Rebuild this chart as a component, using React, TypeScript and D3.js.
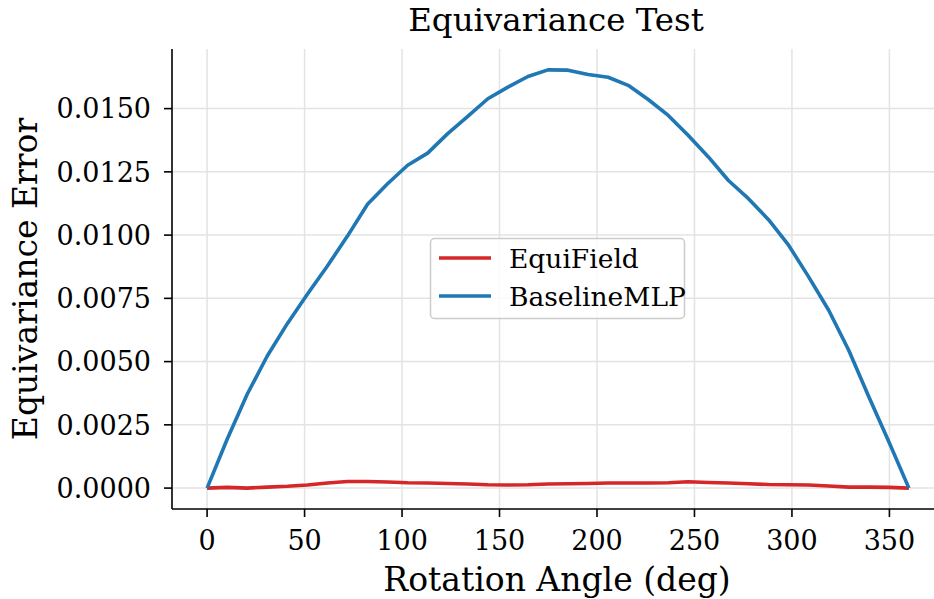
import React from "react";
import * as d3 from "d3";

// rotation angles (deg), 36 samples
const angles = [0, 10.29, 20.57, 30.86, 41.14, 51.43, 61.71, 72.0, 82.29, 92.57, 102.86, 113.14,
  123.43, 133.71, 144.0, 154.29, 164.57, 174.86, 185.14, 195.43, 205.71, 216.0, 226.29, 236.57,
  246.86, 257.14, 267.43, 277.71, 288.0, 298.29, 308.57, 318.86, 329.14, 339.43, 349.71, 360];

const equiField = [0, 0.00003, 0.0, 0.00004, 0.00007, 0.00012, 0.0002, 0.00026, 0.00026, 0.00024,
  0.00021, 0.0002, 0.00018, 0.00016, 0.00013, 0.00012, 0.00013, 0.00016, 0.00017, 0.00018, 0.0002,
  0.0002, 0.0002, 0.00021, 0.00025, 0.00022, 0.0002, 0.00017, 0.00014, 0.00013, 0.00012, 0.00008,
  0.00004, 0.00004, 0.00003, 0.0];

const baselineMLP = [0, 0.00193, 0.00371, 0.00522, 0.0065, 0.00766, 0.00878, 0.00996, 0.01122,
  0.01203, 0.01276, 0.01324, 0.01401, 0.01469, 0.01539, 0.01585, 0.01627, 0.01653, 0.01652, 0.01635,
  0.01624, 0.01592, 0.01536, 0.01473, 0.01394, 0.01309, 0.01216, 0.01144, 0.01061, 0.0096, 0.00835,
  0.00703, 0.00545, 0.00361, 0.00183, 0];

const xTicks = [0, 50, 100, 150, 200, 250, 300, 350];
const yTicks = [0, 0.0025, 0.005, 0.0075, 0.01, 0.0125, 0.015];

const seriesNames = ["EquiField", "BaselineMLP"];
const seriesColors = ["#d62728", "#1f77b4"];

export default function App() {
  const width = 934;
  const height = 599;
  const left = 172, right = 944, top = 49, bottom = 509;
  const font = "'DejaVu Serif', serif";

  const all = [...equiField, ...baselineMLP];
  const yMin = d3.min(all)!, yMax = d3.max(all)!;
  const yPad = (yMax - yMin) * 0.05;
  const xPad = 360 * 0.05;

  const x = d3.scaleLinear().domain([0 - xPad, 360 + xPad]).range([left, right]);
  const y = d3.scaleLinear().domain([yMin - yPad, yMax + yPad]).range([bottom, top]);

  const line = d3.line<number>()
    .x((d, i) => x(angles[i]))
    .y(d => y(d));

  const series = [equiField, baselineMLP];

  return (
    <svg width={width} height={height} style={{position: "absolute", left: 0, top: 0, background: "white"}}
         fontFamily={font}>
      {/* grid */}
      {xTicks.map(t => (
        <line key={"gx" + t} x1={x(t)} x2={x(t)} y1={top} y2={bottom} stroke="#e3e3e3" strokeWidth={1.5}/>
      ))}
      {yTicks.map(t => (
        <line key={"gy" + t} x1={left} x2={right} y1={y(t)} y2={y(t)} stroke="#e3e3e3" strokeWidth={1.5}/>
      ))}

      {/* lines */}
      {series.map((s, i) => (
        <path key={seriesNames[i]} d={line(s)!} fill="none" stroke={seriesColors[i]} strokeWidth={3.6}
              strokeLinejoin="round" strokeLinecap="butt"/>
      ))}

      {/* spines */}
      <line x1={left} x2={left} y1={top} y2={bottom} stroke="black" strokeWidth={1.6}/>
      <line x1={left} x2={right} y1={bottom} y2={bottom} stroke="black" strokeWidth={1.6}/>

      {/* x ticks */}
      {xTicks.map(t => (
        <g key={"xt" + t} transform={`translate(${x(t)},${bottom})`}>
          <line y2={8} stroke="black" strokeWidth={1.6}/>
          <text y={41} textAnchor="middle" fontSize={27}>{t}</text>
        </g>
      ))}
      {/* y ticks */}
      {yTicks.map(t => (
        <g key={"yt" + t} transform={`translate(${left},${y(t)})`}>
          <line x2={-8} stroke="black" strokeWidth={1.6}/>
          <text x={-21} dy="0.36em" textAnchor="end" fontSize={27}>{t.toFixed(4)}</text>
        </g>
      ))}

      {/* labels */}
      <text x={557} y={591} textAnchor="middle" fontSize={33}>Rotation Angle (deg)</text>
      <text transform={`translate(37,${(top + bottom) / 2}) rotate(-90)`} textAnchor="middle" fontSize={33}>
        Equivariance Error
      </text>
      <text x={556} y={31} textAnchor="middle" fontSize={32.5}>Equivariance Test</text>

      {/* legend */}
      <g transform="translate(430,238)">
        <rect x={0.5} y={0.5} width={254} height={80} rx={4} fill="white" fillOpacity={0.8}
              stroke="#cccccc" strokeWidth={1.5}/>
        {seriesNames.map((n, i) => (
          <g key={n} transform={`translate(0,${20 + i * 38})`}>
            <line x1={9} x2={61} stroke={seriesColors[i]} strokeWidth={3.6}/>
            <text x={79} dy="0.36em" fontSize={26.5}>{n}</text>
          </g>
        ))}
      </g>
    </svg>
  );
}
